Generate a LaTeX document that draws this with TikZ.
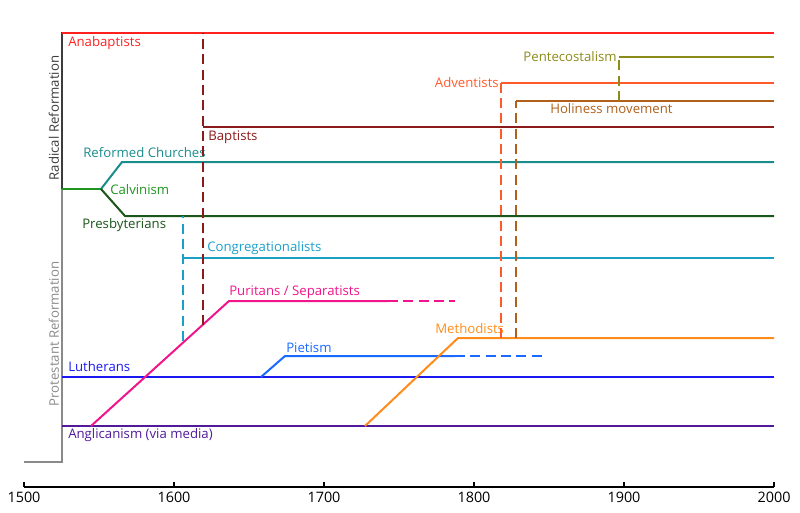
\documentclass[tikz,border=0pt]{standalone}
\usepackage{fontspec}
\setmainfont{Open Sans}
\usepackage{tikz}
\usetikzlibrary{
    calc,
    positioning
}
\definecolor{anabap}{HTML}{FF2020}
\definecolor{baptred}{HTML}{8B1A1A}
\definecolor{reformteal}{HTML}{1A8C8C}
\definecolor{calvgreen}{HTML}{1E961E}
\definecolor{presbgreen}{HTML}{1A551A}
\definecolor{congblue}{HTML}{1AA0C8}
\definecolor{puripink}{HTML}{F0158A}
\definecolor{lutherblue}{HTML}{1A1AF0}
\definecolor{pietblue}{HTML}{1A6AFF}
\definecolor{anglpurple}{HTML}{501A9A}
\definecolor{methorange}{HTML}{FF8C1A}
\definecolor{adventred}{HTML}{FF5A2A}
\definecolor{holibrown}{HTML}{B0601A}
\definecolor{pentolive}{HTML}{8B8B1A}
\definecolor{radgray}{HTML}{3C3C3C}
\definecolor{protgray}{HTML}{8A8A8A}
\tikzstyle{stream}=[line width=1.5pt]
\tikzstyle{descent}=[line width=1.5pt,dash pattern=on 7.5pt off 4pt]

\begin{document}
\begin{tikzpicture}[
    x=0.75pt,y=-0.75pt,
    lbl/.style={font=\fontsize{9.9}{11}\selectfont,inner sep=0pt},
    side/.style={lbl,rotate=90}
]
\useasboundingbox (0,0) rectangle (800,512);
% time axis
\coordinate (ax0) at (24,487);
\coordinate (ax1) at (774,487);
\draw[line width=1.5pt] (ax0) -- (ax1);
\foreach \yr [count=\i from 0] in {1500,1600,1700,1800,1900,2000} {
    \draw[line width=1.5pt] (24+150*\i,487) -- ++(0,-5);
    \node[lbl,font=\fontsize{10.8}{12}\selectfont] (yr\yr) at (24+150*\i,497) {\yr};
}
% reformation bracket
\coordinate (brk0) at (24,462);
\coordinate (brk1) at (62,462);
\coordinate (brk2) at (62,189);
\coordinate (brk3) at (62,32);
\draw[line width=1.5pt,protgray] (brk0) -- (brk1) -- (brk2);
\draw[line width=1.5pt,radgray] (brk2) -- (brk3);
\node[side,text=radgray] (radical) at (54,118) {Radical Reformation};
\node[side,text=protgray] (protestant) at (54,334) {Protestant Reformation};
% anabaptists
\coordinate (anaS) at (62,33);
\coordinate (anaE) at (774,33);
\draw[stream,anabap] (anaS) -- (anaE);
\node[lbl,anchor=west,text=anabap] (anaL) at (68,43) {Anabaptists};
% calvinism and its branches
\coordinate (calS) at (62,189);
\coordinate (calF) at (101,189);
\coordinate (refK) at (122,162);
\coordinate (refE) at (774,162);
\coordinate (preK) at (125,216);
\coordinate (preE) at (774,216);
\draw[stream,calvgreen] (calS) -- (calF);
\draw[stream,reformteal] (calF) -- (refK) -- (refE);
\draw[stream,presbgreen] (calF) -- (preK) -- (preE);
\node[lbl,anchor=west,text=calvgreen] (calL) at (110,190) {Calvinism};
\node[lbl,anchor=west,text=reformteal] (refL) at (83,153) {Reformed Churches};
\node[lbl,anchor=west,text=presbgreen] (preL) at (82,225) {Presbyterians};
% lutherans and anglicans
\coordinate (lutS) at (62,377);
\coordinate (lutE) at (774,377);
\draw[stream,lutherblue] (lutS) -- (lutE);
\node[lbl,anchor=west,text=lutherblue] (lutL) at (68,367) {Lutherans};
\coordinate (angS) at (62,426);
\coordinate (angE) at (774,426);
\draw[stream,anglpurple] (angS) -- (angE);
\node[lbl,anchor=west,text=anglpurple] (angL) at (68,435) {Anglicanism (via media)};
% puritans
\coordinate (purS) at (91,426);
\coordinate (purK) at (229,301);
\coordinate (purF) at (388,301);
\coordinate (purE) at (455,301);
\draw[stream,puripink] (purS) -- (purK) -- (purF);
\draw[descent,puripink] (purF) -- (purE);
\node[lbl,anchor=west,text=puripink] (purL) at (229,292) {Puritans / Separatists};
% congregationalists
\coordinate (conT) at (183,216);
\coordinate (conB) at (183,341);
\coordinate (conK) at (183,258);
\coordinate (conE) at (774,258);
\draw[descent,congblue] (conB) -- (conT);
\draw[stream,congblue] (conK) -- (conE);
\node[lbl,anchor=west,text=congblue] (conL) at (207,248) {Congregationalists};
% baptists
\coordinate (bapT) at (203,33);
\coordinate (bapB) at (203,325);
\coordinate (bapK) at (203,127);
\coordinate (bapE) at (774,127);
\draw[descent,baptred] (bapB) -- (bapT);
\draw[stream,baptred] (bapK) -- (bapE);
\node[lbl,anchor=west,text=baptred] (bapL) at (208,137) {Baptists};
% pietism
\coordinate (pieS) at (261,377);
\coordinate (pieK) at (285,356);
\coordinate (pieF) at (455,356);
\coordinate (pieE) at (545,356);
\draw[stream,pietblue] (pieS) -- (pieK) -- (pieF);
\draw[descent,pietblue] (pieF) -- (pieE);
\node[lbl,anchor=west,text=pietblue] (pieL) at (286,348) {Pietism};
% methodists
\coordinate (metS) at (365,426);
\coordinate (metK) at (458,338);
\coordinate (metE) at (774,338);
\draw[stream,methorange] (metS) -- (metK) -- (metE);
\node[lbl,anchor=west,text=methorange] (metL) at (435,329) {Methodists};
% adventists
\coordinate (advB) at (501,338);
\coordinate (advK) at (501,83);
\coordinate (advE) at (774,83);
\draw[descent,adventred] (advB) -- (advK);
\draw[stream,adventred] (advK) -- (advE);
\node[lbl,anchor=east,text=adventred] (advL) at (499,83) {Adventists};
% holiness movement
\coordinate (holB) at (516,338);
\coordinate (holK) at (516,101);
\coordinate (holE) at (774,101);
\draw[descent,holibrown] (holB) -- (holK);
\draw[stream,holibrown] (holK) -- (holE);
\node[lbl,anchor=west,text=holibrown] (holL) at (550,109) {Holiness movement};
% pentecostalism
\coordinate (penB) at (619,101);
\coordinate (penK) at (619,57);
\coordinate (penE) at (774,57);
\draw[descent,pentolive] (penB) -- (penK);
\draw[stream,pentolive] (penK) -- (penE);
\node[lbl,anchor=east,text=pentolive] (penL) at (617,57) {Pentecostalism};
\end{tikzpicture}
\end{document}
